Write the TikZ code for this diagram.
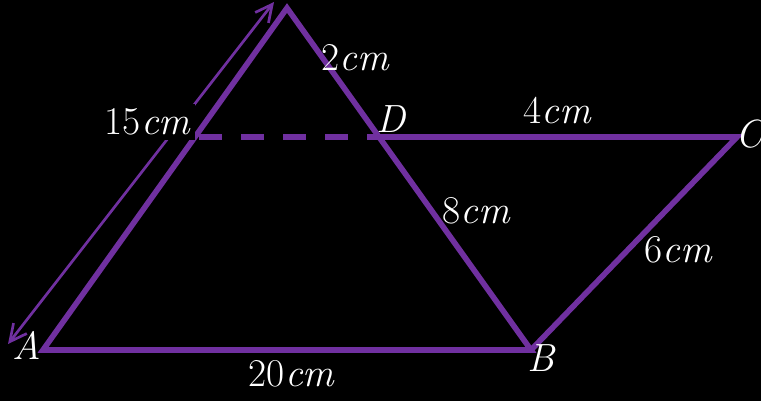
\documentclass[tikz,border=0pt]{standalone}
\usepackage{xcolor}
\usepackage{amsmath}
\usepackage{tikz}
\usetikzlibrary{arrows.meta, calc}
\definecolor{mypurple}{RGB}{112,48,160}
\definecolor{mybg}{RGB}{0,0,0}
\newcommand{\cmlen}[1]{#1\textit{cm}}
\tikzset{
  side/.style={line width=4pt, color=mypurple, line join=miter},
  dashside/.style={line width=4pt, color=mypurple,
    dash pattern=on 16.4pt off 13.5pt},
  dimarrow/.style={{Straight Barb[length=12pt, width=12pt]}-{Straight Barb[length=12pt, width=12pt]},
    line width=1.9pt, color=mypurple},
  lbl/.style={text=white, inner sep=0pt, font=\fontsize{28}{32}\selectfont},
  cutlbl/.style={lbl, fill=mybg, inner sep=3pt}
}

\begin{document}
\begin{tikzpicture}[x=0.025cm, y=-0.025cm]

  % Background
  \useasboundingbox (0,0) rectangle (761,401);
  \fill[mybg] (0,0) rectangle (761,401);

  % Corner points
  \coordinate (P) at (287,8);
  \coordinate (A) at (43,350);
  \coordinate (B) at (531,350);
  \coordinate (C) at (737,137);
  \coordinate (D) at (379,137);
  \coordinate (E) at (199,137);
  \coordinate (tipT) at (274,2);
  \coordinate (tipA) at (8,344);

  % Sides
  \draw[side] (A) -- (P) -- (B) -- cycle;
  \draw[side] (D) -- (C) -- (B);
  \draw[dashside] (E) -- (D);

  % Length arrow
  \draw[dimarrow] (tipT) -- (tipA);

  % Lengths
  \node[lbl] (lPD) at (356,58)  {\cmlen{2}};
  \node[cutlbl] (lAP) at (148,122) {\cmlen{15}};
  \node[lbl] (lDC) at (558,111) {\cmlen{4}};
  \node[lbl] (lDB) at (477,211) {\cmlen{8}};
  \node[lbl] (lBC) at (679,250) {\cmlen{6}};
  \node[lbl] (lAB) at (292,374) {\cmlen{20}};

  % Points
  \node[lbl] (nA) at (27,345)  {\textit{A}};
  \node[lbl] (nB) at (542,358) {\textit{B}};
  \node[lbl] (nC) at (751,134) {\textit{C}};
  \node[lbl] (nD) at (391,119) {\textit{D}};
\end{tikzpicture}
\end{document}
